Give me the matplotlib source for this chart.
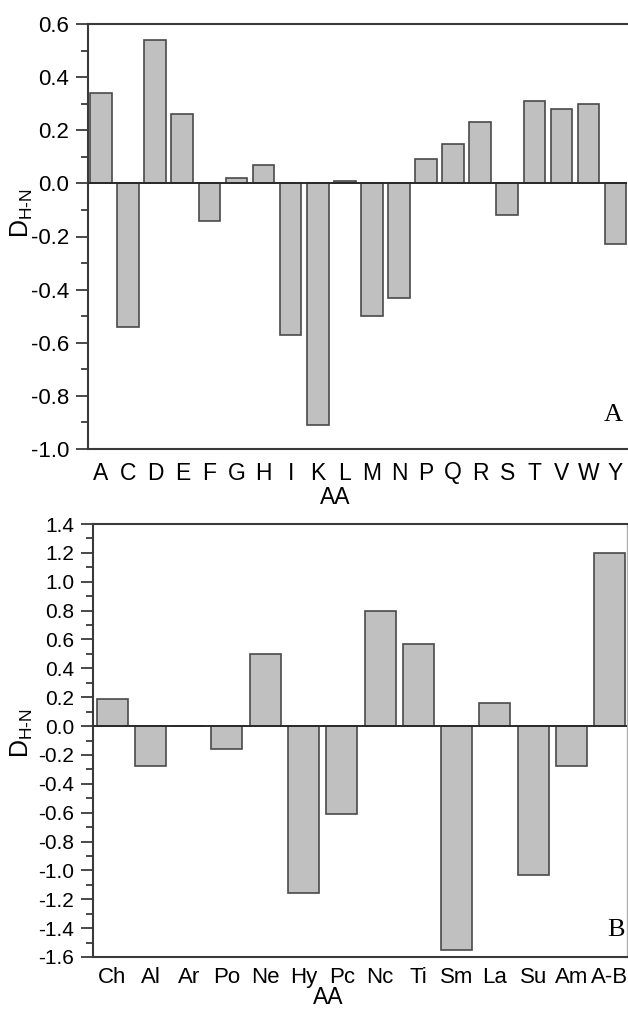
import matplotlib
matplotlib.use("Agg")
import matplotlib.pyplot as plt
from matplotlib.ticker import MultipleLocator

plt.rcParams['font.family'] = ['Liberation Sans', 'DejaVu Sans']
plt.rcParams['mathtext.fontset'] = 'custom'
plt.rcParams['mathtext.rm'] = 'Liberation Sans'

# Panel A data
cats_a = ['A', 'C', 'D', 'E', 'F', 'G', 'H', 'I', 'K', 'L',
          'M', 'N', 'P', 'Q', 'R', 'S', 'T', 'V', 'W', 'Y']
vals_a = [0.34, -0.54, 0.54, 0.26, -0.14, 0.02, 0.07, -0.57, -0.91, 0.01,
          -0.50, -0.43, 0.09, 0.15, 0.23, -0.12, 0.31, 0.28, 0.30, -0.23]

# Panel B data
cats_b = ['Ch', 'Al', 'Ar', 'Po', 'Ne', 'Hy', 'Pc', 'Nc', 'Ti', 'Sm',
          'La', 'Su', 'Am', 'A-B']
vals_b = [0.19, -0.28, 0.0, -0.16, 0.50, -1.16, -0.61, 0.80, 0.57, -1.55,
          0.16, -1.03, -0.28, 1.20]

W, H = 628, 1009
fig = plt.figure(figsize=(W / 100, H / 100), dpi=100)

spine_c = '#3a3a3a'
bar_c = '#c0c0c0'
edge_c = '#4a4a4a'


def style(ax, ylim, yticks, minor, xpad, right_spine, ysize):
    ax.set_ylim(*ylim)
    ax.set_yticks(yticks)
    ax.set_yticklabels([f'{t:.1f}' for t in yticks])
    ax.yaxis.set_minor_locator(MultipleLocator(minor))
    for s in ['left', 'top', 'bottom']:
        ax.spines[s].set_color(spine_c)
        ax.spines[s].set_linewidth(1.5)
    if right_spine:
        ax.spines['right'].set_color('#b0b0b0')
        ax.spines['right'].set_linewidth(1.0)
    else:
        ax.spines['right'].set_visible(False)
    ax.tick_params(axis='y', which='major', direction='out', length=8.5,
                   width=1.3, color=spine_c, labelsize=ysize, pad=5)
    ax.tick_params(axis='y', which='minor', direction='out', length=5,
                   width=1.3, color=spine_c)
    ax.tick_params(axis='x', which='both', length=0, labelsize=16.5, pad=xpad)
    ax.axhline(0, color='#2a2a2a', lw=1.4, zorder=3)


# Top panel
ax1 = fig.add_axes([88 / W, 1 - 449 / H, (627 - 88) / W, (449 - 24) / H])
x1 = list(range(len(cats_a)))
ax1.bar(x1, vals_a, width=0.8, color=bar_c, edgecolor=edge_c, linewidth=1.2, zorder=2)
ax1.set_xlim(-0.48, 19.42)
ax1.set_xticks(x1)
ax1.set_xticklabels(cats_a)
style(ax1, (-1.0, 0.6), [-1.0, -0.8, -0.6, -0.4, -0.2, 0.0, 0.2, 0.4, 0.6], 0.1, 9, False, 16)
ax1.set_xlabel('AA', fontsize=16.5)
ax1.xaxis.set_label_coords((335 - 88) / (627 - 88), -(497 - 449) / (449 - 24))
ax1.xaxis.label.set_va('center')
ax1.set_ylabel(r'$\mathregular{D_{H\text{-}N}}$', fontsize=18)
ax1.yaxis.set_label_coords(-(88 - 22) / (627 - 88), (449 - 213) / (449 - 24))
ax1.yaxis.label.set_va('center')
ax1.text(613, H - 415, 'A', transform=None, fontsize=19, family='Liberation Serif',
         ha='center', va='center')

# Bottom panel
ax2 = fig.add_axes([93 / W, 1 - 957 / H, (627 - 93) / W, (957 - 524) / H])
x2 = list(range(len(cats_b)))
ax2.bar(x2, vals_b, width=0.81, color=bar_c, edgecolor=edge_c, linewidth=1.2, zorder=2)
ax2.set_xlim(-0.5, 13.45)
ax2.set_xticks(x2)
ax2.set_xticklabels(cats_b)
style(ax2, (-1.6, 1.4), [round(-1.6 + 0.2 * i, 1) for i in range(16)], 0.1, 7, True, 15)
ax2.tick_params(axis='x', labelsize=16)
ax2.set_xlabel('AA', fontsize=16.5)
ax2.xaxis.set_label_coords((328 - 93) / (627 - 93), -(998 - 957) / (957 - 524))
ax2.xaxis.label.set_va('center')
ax2.set_ylabel(r'$\mathregular{D_{H\text{-}N}}$', fontsize=18)
ax2.yaxis.set_label_coords(-(93 - 22) / (627 - 93), (957 - 733) / (957 - 524))
ax2.yaxis.label.set_va('center')
ax2.text(616, H - 930, 'B', transform=None, fontsize=19, family='Liberation Serif',
         ha='center', va='center')

fig.savefig('out.png', dpi=100)
